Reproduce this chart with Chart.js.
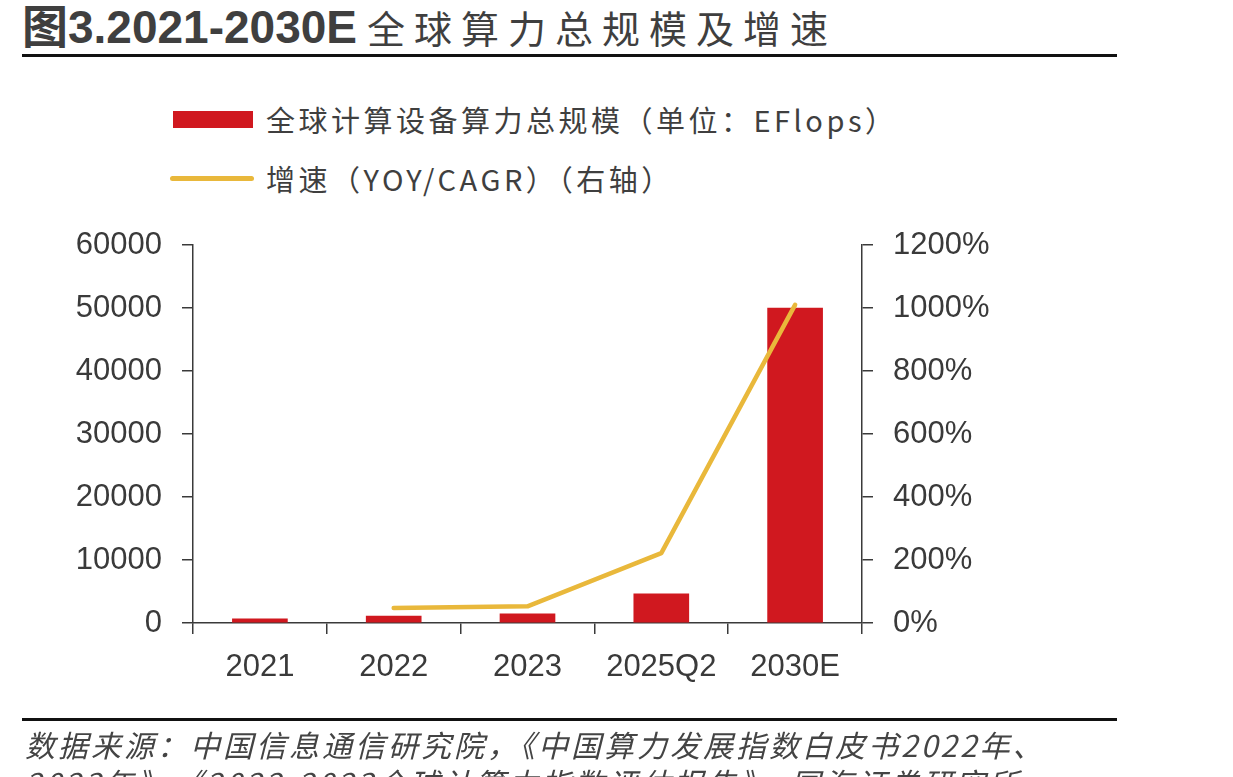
<!DOCTYPE html>
<html>
<head>
<meta charset="utf-8">
<script src="https://cdn.jsdelivr.net/npm/chart.js@4/dist/chart.umd.min.js"></script>
<style>
  body { margin: 0; width: 1233px; height: 777px; overflow: hidden; background: #fff; position: relative; }
  .abs { position: absolute; white-space: nowrap; }
  #title { left: 22px; top: -10px; color: #3f3f3f; }
  #title .num { font: bold 46px 'Liberation Sans', 'Noto Sans CJK SC'; }
  #title .cn { font: 38px 'Noto Sans CJK SC'; letter-spacing: 9px; margin-left: 10px; }
  .rule { position: absolute; left: 22px; width: 1095px; height: 3px; background: #111; }
  .leg { font: 29px 'Noto Sans CJK SC'; color: #3f3f3f; letter-spacing: 3.5px; }
  .src { left: 25px; font: italic 30px 'Noto Sans CJK SC'; color: #444; letter-spacing: 3px; }
  #wrap { position: absolute; left: 0; top: 0; width: 1233px; height: 777px; }
</style>
</head>
<body>
<div id="title" class="abs"><span class="num">图3.2021-2030E</span><span class="cn">全球算力总规模及增速</span></div>
<div class="rule" style="top:54px"></div>

<div class="abs" style="left:173px;top:111px;width:80px;height:17px;background:#D0181F"></div>
<div class="abs leg" style="left:266px;top:98px">全球计算设备算力总规模（单位：EFlops）</div>
<div class="abs" style="left:170px;top:176px;width:84px;height:5px;border-radius:3px;background:#E9B83B"></div>
<div class="abs leg" style="left:266px;top:157px">增速（YOY/CAGR）（右轴）</div>

<div id="wrap"><canvas id="chart" width="1233" height="777"></canvas></div>

<div class="rule" style="top:718px"></div>
<div class="abs src" style="top:722px">数据来源：中国信息通信研究院，《中国算力发展指数白皮书2022年、</div>
<div class="abs src" style="top:760px">2023年》、《2022-2023全球计算力指数评估报告》、国海证券研究所</div>

<script>
// chart values
const categories = ['2021', '2022', '2023', '2025Q2', '2030E'];
const computeTotal = [650, 1100, 1450, 4650, 50000];   // EFlops
const growthRate = [null, 48, 53, 222, 1010];          // %
const leftMax = 60000, leftStep = 10000;
const rightMax = 1200, rightStep = 200;

const axisColor = '#3a3a3a';
const tickFont = { family: 'Liberation Sans', size: 31 };

const ctx = document.getElementById('chart').getContext('2d');
new Chart(ctx, {
  data: {
    labels: categories,
    datasets: [
      {
        type: 'line',
        label: '增速（YOY/CAGR）（右轴）',
        data: growthRate,
        yAxisID: 'y1',
        borderColor: '#E9B83B',
        borderWidth: 4.5,
        borderCapStyle: 'round',
        borderJoinStyle: 'round',
        pointRadius: 0,
        tension: 0,
        order: 0
      },
      {
        type: 'bar',
        label: '全球计算设备算力总规模（单位：EFlops）',
        data: computeTotal,
        yAxisID: 'y',
        backgroundColor: '#D0181F',
        barThickness: 55,
        order: 1
      }
    ]
  },
  options: {
    responsive: false,
    animation: false,
    layout: { padding: { left: 0, right: 171, top: 245, bottom: 94 } },
    plugins: { legend: { display: false }, tooltip: { enabled: false } },
    scales: {
      x: {
        offset: true,
        grid: { display: true, offset: true, drawOnChartArea: false, drawTicks: true, tickLength: 11, color: axisColor, lineWidth: 1.5 },
        border: { display: true, color: axisColor, width: 1.5 },
        ticks: { font: tickFont, color: axisColor, padding: 15, maxRotation: 0 },
        afterFit: function(scale) { scale.height = 60; }
      },
      y: {
        position: 'left',
        min: 0, max: leftMax,
        grid: { drawOnChartArea: false, drawTicks: true, tickLength: 11, color: axisColor, lineWidth: 1.5 },
        border: { display: true, color: axisColor, width: 1.5 },
        ticks: { stepSize: leftStep, font: tickFont, color: axisColor, padding: 20, callback: v => String(v) },
        afterFit: function(scale) { scale.width = 193; }
      },
      y1: {
        position: 'right',
        min: 0, max: rightMax,
        grid: { drawOnChartArea: false, drawTicks: true, tickLength: 11, color: axisColor, lineWidth: 1.5 },
        border: { display: true, color: axisColor, width: 1.5 },
        ticks: { stepSize: rightStep, font: tickFont, color: axisColor, padding: 20, callback: v => v + '%' },
        afterFit: function(scale) { scale.width = 200; }
      }
    }
  }
});
</script>
</body>
</html>
